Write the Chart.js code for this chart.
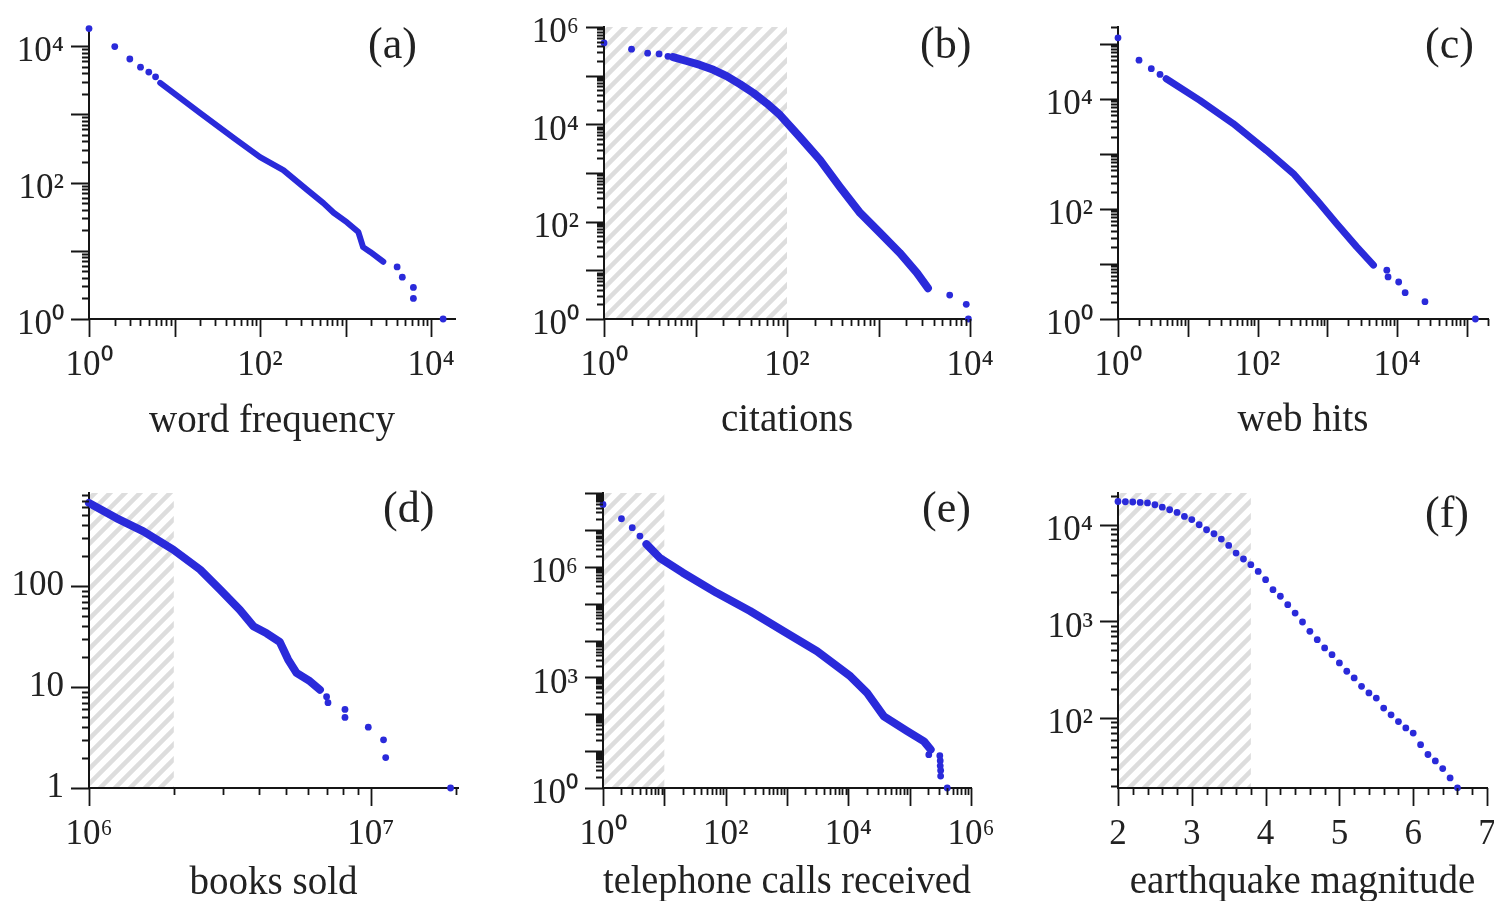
<!DOCTYPE html>
<html>
<head>
<meta charset="utf-8">
<script src="https://cdn.jsdelivr.net/npm/chart.js@4.4.1/dist/chart.umd.min.js"></script>
<style>
  html, body { margin: 0; padding: 0; background: #fff; overflow: hidden; }
  body { width: 1494px; height: 901px; position: relative; }
  canvas { position: absolute; }
  .tag { position: absolute; font-family: 'Liberation Serif', 'Times New Roman', serif;
         font-size: 44px; line-height: 44px; color: #222; }
</style>
</head>
<body>
<div id="wrap"></div>
<div class="tag" style="left:368px;top:22px">(a)</div>
<div class="tag" style="left:920px;top:22px">(b)</div>
<div class="tag" style="left:1425px;top:22px">(c)</div>
<div class="tag" style="left:383px;top:486px">(d)</div>
<div class="tag" style="left:922px;top:486px">(e)</div>
<div class="tag" style="left:1425px;top:491px">(f)</div>
<script>
// values (cumulative distributions, log-log)

// (a) word frequency
const wordBandX = [6.8, 20, 49, 100, 187, 355, 550, 725, 1040, 1410, 1600, 1940, 2760];
const wordBandY = [2880, 1040, 450, 235, 152, 78, 50, 36, 26, 18.8, 11.3, 9.6, 6.9];
const wordDotX = [1, 2, 3, 4, 5, 6, 4000, 4600, 6200, 6200, 13800];
const wordDotY = [18000, 9800, 6450, 4900, 4150, 3540, 5.8, 4.1, 2.9, 2.0, 1];

// (b) citations
const citeBandX = [5.7, 8, 11.2, 15.7, 21.9, 30.6, 43, 60, 84, 138, 229, 380, 630, 1040, 1700, 2630, 3470];
const citeBandY = [240000, 200000, 166000, 132000, 98000, 67000, 44000, 27000, 15500, 5500, 1860, 515, 151, 59, 23, 8.9, 4.3];
const citeDotX = [1, 2, 3, 4, 5, 6000, 9100, 9600];
const citeDotY = [470000, 350000, 290000, 280000, 250000, 3.1, 2.0, 1];

// (c) web hits
const webBandX = [4.9, 14.9, 44.7, 134, 325, 705, 1350, 2630, 4570];
const webBandY = [23000, 9300, 3540, 1150, 437, 144, 54, 20.4, 9.5];
const webDotX = [1, 2, 3, 4, 7100, 7400, 10500, 13000, 25000, 132000];
const webDotY = [127000, 50000, 35000, 27500, 7.7, 5.8, 4.7, 3.0, 2.06, 1];

// (d) books sold
const bookBandX = [1.0e6, 1.25e6, 1.56e6, 1.99e6, 2.48e6, 2.92e6, 3.43e6, 3.83e6, 4.27e6, 4.75e6, 5.09e6, 5.45e6, 6.08e6, 6.6e6];
const bookBandY = [663, 470, 347, 229, 145, 92, 58, 40, 34, 28, 18.7, 13.8, 11.4, 9.4];
const bookDotX = [6.97e6, 7.05e6, 8.1e6, 8.1e6, 9.8e6, 1.11e7, 1.13e7, 1.92e7];
const bookDotY = [8, 7, 6, 5, 4, 3, 2, 1];

// (e) telephone calls received
const callBandX = [5.1, 8.4, 20, 71, 250, 880, 3090, 10800, 20200, 38000, 91000, 171000, 220000];
const callBandY = [4.1e6, 1.75e6, 6.9e5, 1.96e5, 6.3e4, 1.78e4, 5100, 1070, 380, 88, 35, 18.4, 11];
const callDotX = [1, 2, 3, 4, 2.05e5, 3.1e5, 3.15e5, 3.15e5, 3.2e5, 3.2e5, 4.1e5];
const callDotY = [4.9e7, 2.0e7, 1.15e7, 6.8e6, 8, 7.5, 5.5, 4, 3, 2.1, 1];

// (f) earthquake magnitude
const quakeX = [2.0, 2.1, 2.2, 2.3, 2.4, 2.5, 2.6, 2.7, 2.8, 2.9, 3.0, 3.1, 3.2, 3.3, 3.4, 3.5,
  3.6, 3.7, 3.8, 3.9, 4.0, 4.1, 4.2, 4.3, 4.4, 4.5, 4.6, 4.7, 4.8, 4.9, 5.0, 5.1, 5.2, 5.3,
  5.4, 5.5, 5.6, 5.7, 5.8, 5.9, 6.0, 6.1, 6.2, 6.3, 6.4, 6.5, 6.6];
const quakeY = [17400, 17300, 17200, 17000, 16800, 16100, 15200, 14300, 13400, 12200, 11300,
  10000, 8880, 8070, 7110, 6110, 5090, 4420, 3860, 3290, 2700, 2130, 1820, 1490, 1220, 986,
  789, 647, 531, 453, 372, 305, 260, 213, 182, 161, 127, 108, 92, 79, 70, 53, 42, 36, 30, 24, 19];

// shaded ranges
const citeHatch = [1, 100];
const bookHatch = [1e6, 2e6];
const callHatch = [1, 10];
const quakeHatch = [2, 3.8];

// tick labels
const evenTicks4 = [1, 100, 10000];
const evenLabels4 = ['10⁰', '10²', '10⁴'];
const evenTicks6 = [1, 100, 10000, 1000000];
const evenLabels6 = ['10⁰', '10²', '10⁴', '10⁶'];
const bookTickX = [1e6, 1e7];
const bookLabelX = ['10⁶', '10⁷'];
const bookTickY = [1, 10, 100];
const bookLabelY = ['1', '10', '100'];
const callTickY = [1, 1000, 1000000];
const callLabelY = ['10⁰', '10³', '10⁶'];
const quakeTickX = [2, 3, 4, 5, 6, 7];
const quakeLabelX = ['2', '3', '4', '5', '6', '7'];
const quakeTickY = [100, 1000, 10000];
const quakeLabelY = ['10²', '10³', '10⁴'];

const BLUE = 'rgb(42,42,218)';
const INK = '#151515';
const Y_AXIS_W = 88, X_AXIS_H = 128, PAD_T = 26, PAD_R = 34;

Chart.defaults.font.family = "'Liberation Serif', 'Times New Roman', serif";
Chart.defaults.color = '#222';

function logMarks(min, max) {
  const out = [];
  for (let e = Math.floor(Math.log10(min)); e <= Math.ceil(Math.log10(max)); e++) {
    for (let k = 1; k <= 9; k++) {
      const v = k * Math.pow(10, e);
      if (v >= min * 0.999 && v <= max * 1.001) out.push({ v: v, len: k === 1 ? 18 : 7 });
    }
  }
  return out;
}
function linMarks(min, max, step) {
  const out = [];
  for (let i = 0; min + i * step <= max + 1e-9; i++) {
    const v = min + i * step;
    out.push({ v: v, len: Math.abs(v - Math.round(v)) < 1e-6 ? 18 : 7 });
  }
  return out;
}

let hatchImg = null;
function hatchPattern(ctx) {
  if (!hatchImg) {
    hatchImg = document.createElement('canvas');
    hatchImg.width = hatchImg.height = 15;
    const g = hatchImg.getContext('2d');
    g.strokeStyle = 'rgba(150,150,150,0.32)';
    g.lineWidth = 4.5;
    g.beginPath();
    for (const s of [0, 15, 30]) { g.moveTo(s - 17, 17); g.lineTo(s + 2, -2); }
    g.stroke();
  }
  return ctx.createPattern(hatchImg, 'repeat');
}

const hatchFill = {
  id: 'hatchFill',
  beforeDraw(chart, args, opts) {
    if (!opts.range) return;
    const { ctx, chartArea, scales: { x } } = chart;
    const x0 = x.getPixelForValue(opts.range[0]);
    const x1 = x.getPixelForValue(opts.range[1]);
    ctx.save();
    ctx.fillStyle = hatchPattern(ctx);
    ctx.fillRect(x0, chartArea.top, x1 - x0, chartArea.bottom - chartArea.top);
    ctx.restore();
  }
};

const axisTicks = {
  id: 'axisTicks',
  afterDraw(chart, args, opts) {
    const { ctx, chartArea, scales: { x, y } } = chart;
    ctx.save();
    ctx.strokeStyle = INK;
    ctx.lineWidth = 1.8;
    ctx.beginPath();
    for (const t of opts.x) {
      const px = Math.round(x.getPixelForValue(t.v)) + 0.5;
      ctx.moveTo(px, chartArea.bottom);
      ctx.lineTo(px, chartArea.bottom + t.len);
    }
    for (const t of opts.y) {
      const py = Math.round(y.getPixelForValue(t.v)) + 0.5;
      ctx.moveTo(chartArea.left, py);
      ctx.lineTo(chartArea.left - t.len, py);
    }
    ctx.stroke();
    ctx.restore();
  }
};

const panels = [
  { box: [89, 27, 455, 319], title: 'word frequency', titlePad: 2,
    x: { type: 'logarithmic', min: 1, max: 19000, ticks: evenTicks4, labels: evenLabels4 },
    y: { type: 'logarithmic', min: 1, max: 19000, ticks: evenTicks4, labels: evenLabels4 },
    band: [wordBandX, wordBandY], bandW: 6, dots: [wordDotX, wordDotY], hatch: null },
  { box: [604, 27, 970, 319], title: 'citations', titlePad: 3,
    x: { type: 'logarithmic', min: 1, max: 10000, ticks: evenTicks4, labels: evenLabels4 },
    y: { type: 'logarithmic', min: 1, max: 1000000, ticks: evenTicks6, labels: evenLabels6 },
    band: [citeBandX, citeBandY], bandW: 8, dots: [citeDotX, citeDotY], hatch: citeHatch },
  { box: [1118, 27, 1488, 319], title: 'web hits', titlePad: 3,
    x: { type: 'logarithmic', min: 1, max: 200000, ticks: evenTicks4, labels: evenLabels4 },
    y: { type: 'logarithmic', min: 1, max: 200000, ticks: evenTicks4, labels: evenLabels4 },
    band: [webBandX, webBandY], bandW: 7, dots: [webDotX, webDotY], hatch: null },
  { box: [89, 493, 458, 788], title: 'books sold', titlePad: 9,
    x: { type: 'logarithmic', min: 1e6, max: 2.04e7, ticks: bookTickX, labels: bookLabelX },
    y: { type: 'logarithmic', min: 1, max: 832, ticks: bookTickY, labels: bookLabelY, plain: true },
    band: [bookBandX, bookBandY], bandW: 8, dots: [bookDotX, bookDotY], hatch: bookHatch },
  { box: [603, 493, 971, 788], title: 'telephone calls received', titlePad: 10,
    x: { type: 'logarithmic', min: 1, max: 1000000, ticks: evenTicks6, labels: evenLabels6 },
    y: { type: 'logarithmic', min: 1, max: 100000000, ticks: callTickY, labels: callLabelY },
    band: [callBandX, callBandY], bandW: 8, dots: [callDotX, callDotY], hatch: callHatch },
  { box: [1118, 493, 1487, 788], title: 'earthquake magnitude', titlePad: 10,
    x: { type: 'linear', min: 2, max: 7, ticks: quakeTickX, labels: quakeLabelX },
    y: { type: 'logarithmic', min: 18.9, max: 21300, ticks: quakeTickY, labels: quakeLabelY },
    band: null, dots: [quakeX, quakeY], hatch: quakeHatch }
];

function pts(xs, ys) {
  return xs.map((v, i) => ({ x: v, y: ys[i] }));
}

const wrap = document.getElementById('wrap');
panels.forEach(p => {
  const [l, t, r, b] = p.box;
  const cv = document.createElement('canvas');
  cv.width = Y_AXIS_W + (r - l) + PAD_R;
  cv.height = PAD_T + (b - t) + X_AXIS_H;
  cv.style.left = (l - Y_AXIS_W) + 'px';
  cv.style.top = (t - PAD_T) + 'px';
  wrap.appendChild(cv);

  const datasets = [];
  if (p.band) {
    datasets.push({
      data: pts(p.band[0], p.band[1]), showLine: true, borderColor: BLUE,
      borderWidth: p.bandW, borderCapStyle: 'round', borderJoinStyle: 'round',
      pointRadius: 0, clip: false
    });
  }
  datasets.push({
    data: pts(p.dots[0], p.dots[1]), showLine: false, pointRadius: 3.4,
    pointBackgroundColor: BLUE, pointBorderWidth: 0, clip: false
  });

  new Chart(cv, {
    type: 'scatter',
    data: { datasets: datasets },
    options: {
      responsive: false,
      animation: false,
      events: [],
      layout: { padding: { left: 0, top: PAD_T, right: PAD_R, bottom: 0 } },
      plugins: {
        legend: { display: false },
        tooltip: { enabled: false },
        hatchFill: { range: p.hatch },
        axisTicks: {
          x: p.x.type === 'linear' ? linMarks(p.x.min, p.x.max, 0.2) : logMarks(p.x.min, p.x.max),
          y: logMarks(p.y.min, p.y.max)
        }
      },
      scales: {
        x: {
          type: p.x.type, min: p.x.min, max: p.x.max, bounds: 'data',
          afterBuildTicks: s => { s.ticks = p.x.ticks.map(v => ({ value: v })); },
          afterFit: s => { s.height = X_AXIS_H; s.paddingLeft = 0; s.paddingRight = 0; },
          grid: { display: false, drawTicks: false },
          border: { display: true, color: INK, width: 2 },
          ticks: {
            autoSkip: false, maxRotation: 0, padding: 26, font: { size: 35 },
            callback: (v, i) => p.x.labels[i]
          },
          title: { display: true, text: p.title, font: { size: 39 },
                   padding: { top: 0, bottom: p.titlePad } }
        },
        y: {
          type: p.y.type, min: p.y.min, max: p.y.max, bounds: 'data',
          afterBuildTicks: s => { s.ticks = p.y.ticks.map(v => ({ value: v })); },
          afterFit: s => { s.width = Y_AXIS_W; s.paddingTop = 0; s.paddingBottom = 0; },
          grid: { display: false, drawTicks: false },
          border: { display: true, color: INK, width: 2 },
          ticks: {
            autoSkip: false, padding: 25, font: { size: 35 },
            labelOffset: p.y.plain ? 0 : 6,
            callback: (v, i) => p.y.labels[i]
          }
        }
      }
    },
    plugins: [hatchFill, axisTicks]
  });
});
</script>
</body>
</html>
